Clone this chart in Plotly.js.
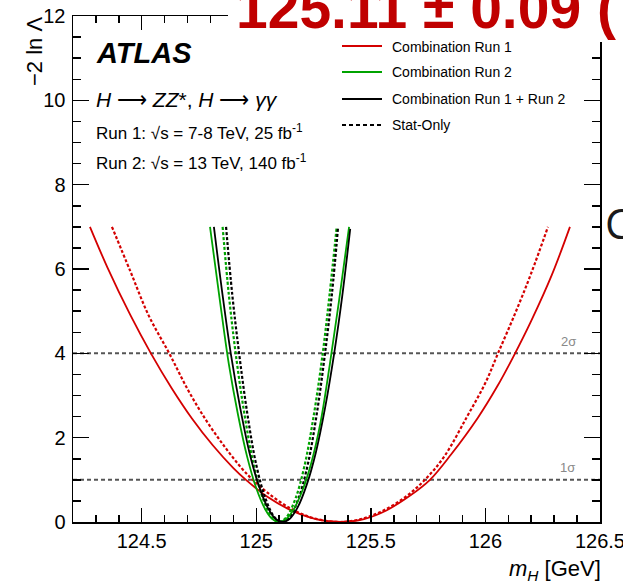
<!DOCTYPE html>
<html>
<head>
<meta charset="utf-8">
<script src="https://cdn.plot.ly/plotly-3.0.1.min.js"></script>
<style>html,body{margin:0;padding:0;background:#fff;}#chart{width:623px;height:584px;}</style>
</head>
<body>
<div id="chart"></div>
<script>
// ---- data ----
const mH_run1 = [124.274,124.35,124.45,124.54,124.63,124.72,124.81,124.90,124.955,125.05,125.15,125.26,125.37,125.47,125.57,125.67,125.758,125.85,125.968,126.05,126.12,126.20,126.29,126.369];
const nll_run1 = [7.0,6.04,4.91,4.0,3.18,2.45,1.82,1.28,1.0,0.59,0.28,0.07,0.0,0.07,0.28,0.62,1.0,1.6,2.48,3.2,3.9,4.77,5.86,7.0];

const mH_run1_stat = [124.37,124.45,124.53,124.62,124.70,124.78,124.86,124.94,124.985,125.05,125.15,125.25,125.36,125.45,125.55,125.65,125.736,125.82,125.92,126.0,126.055,126.13,126.20,126.273];
const nll_run1_stat = [7.0,5.95,4.9,4.0,3.15,2.42,1.8,1.25,1.0,0.69,0.32,0.09,0.0,0.06,0.26,0.59,1.0,1.55,2.5,3.3,4.0,4.95,5.9,7.0];

const mH_run2 = [124.798,124.84,124.88,124.92,124.96,125.00,125.04,125.07,125.10,125.13,125.16,125.20,125.24,125.28,125.32,125.36,125.405];
const nll_run2 = [7.0,5.3,3.75,2.55,1.55,0.8,0.29,0.07,0.0,0.07,0.27,0.73,1.4,2.35,3.7,5.2,7.0];

const mH_run2_stat = [124.853,124.88,124.91,124.95,124.99,125.03,125.07,125.10,125.13,125.17,125.21,125.25,125.29,125.32,125.351];
const nll_run2_stat = [7.0,5.4,4.0,2.5,1.32,0.54,0.1,0.0,0.1,0.54,1.32,2.5,4.0,5.4,7.0];

const mH_comb = [124.815,124.85,124.89,124.93,124.97,125.01,125.05,125.085,125.115,125.145,125.18,125.22,125.26,125.30,125.34,125.375,125.41];
const nll_comb = [7.0,5.5,3.95,2.7,1.65,0.88,0.34,0.07,0.0,0.07,0.34,0.88,1.65,2.7,4.0,5.35,6.95];

const mH_comb_stat = [124.868,124.895,124.925,124.96,125.00,125.04,125.08,125.112,125.145,125.185,125.225,125.265,125.30,125.33,125.357];
const nll_comb_stat = [7.0,5.4,4.0,2.6,1.35,0.56,0.11,0.0,0.11,0.57,1.37,2.6,4.0,5.4,7.0];

const sigmaLevels = [1, 4];
const sigmaLabels = ['1σ', '2σ'];
const xTickVals = [124.5, 125, 125.5, 126, 126.5];
const xTickText = ['124.5', '125', '125.5', '126', '126.5'];
const yTickVals = [0, 2, 4, 6, 8, 10, 12];
const yTickText = ['0', '2', '4', '6', '8', '10', '12'];
const legendLabels = ['Combination Run 1', 'Combination Run 2', 'Combination Run 1 + Run 2', 'Stat-Only'];

// ---- styling / layout ----
const RED = '#d40000', GREEN = '#00a300', BLACK = '#000000';
const FONT = 'Liberation Sans, Arial, Helvetica, sans-serif';
const L = 73, R = 600, T = 16, B = 522;
const px = x => (x - L) / (R - L);
const py = y => (B - y) / (B - T);

function tr(x, y, color, dashed) {
  return {x: x, y: y, type: 'scatter', mode: 'lines', showlegend: false, hoverinfo: 'skip',
    line: {color: color, width: dashed ? 2.2 : 1.8, dash: dashed ? '3px,2px' : 'solid', shape: 'spline', smoothing: 1}};
}
const data = [
  tr(mH_run1, nll_run1, RED, false),
  tr(mH_run1_stat, nll_run1_stat, RED, true),
  tr(mH_run2_stat, nll_run2_stat, GREEN, true),
  tr(mH_comb_stat, nll_comb_stat, BLACK, true),
  tr(mH_run2, nll_run2, GREEN, false),
  tr(mH_comb, nll_comb, BLACK, false)
];

const shapes = [];
sigmaLevels.forEach(v => shapes.push({type: 'line', xref: 'paper', yref: 'y', x0: 0, x1: 1, y0: v, y1: v,
  line: {color: '#555555', width: 2, dash: '4px,3px'}, layer: 'below'}));
// white box behind the big headline
shapes.push({type: 'rect', xref: 'paper', yref: 'paper', x0: px(228), x1: px(640), y0: py(42), y1: py(-10),
  fillcolor: '#ffffff', line: {width: 0}, layer: 'above'});
// legend samples
const legY = [46, 72, 99, 125];
const legC = [RED, GREEN, BLACK, BLACK];
const legD = ['solid', 'solid', 'solid', '4px,3px'];
legY.forEach((yy, i) => shapes.push({type: 'line', xref: 'paper', yref: 'paper', x0: px(342), x1: px(382), y0: py(yy), y1: py(yy),
  line: {color: legC[i], width: 2, dash: legD[i]}, layer: 'above'}));

const annotations = [];
function ann(text, x, y, size, opts) {
  annotations.push(Object.assign({text: text, xref: 'paper', yref: 'paper', x: px(x), y: py(y), showarrow: false,
    xanchor: 'left', yanchor: 'middle', font: {family: FONT, size: size, color: '#000'}}, opts || {}));
}
legendLabels.forEach((t, i) => ann(t, 390, legY[i] + (i === 0 ? 1 : 0), 14));
ann('<b>125.11 ± 0.09 (</b>', 234, 8, 57, {font: {family: FONT, size: 57, color: '#c00000'}});
ann('<b><i>ATLAS</i></b>', 94, 53, 29);
ann('<i>H</i> ⟶ <i>ZZ</i>*, <i>H</i> ⟶ <i>γγ</i>', 94, 99, 21);
ann('Run 1: √s = 7-8 TeV, 25 fb<sup>-1</sup>', 94, 132, 17);
ann('Run 2: √s = 13 TeV, 140 fb<sup>-1</sup>', 94, 162, 17);
ann(sigmaLabels[1], 568, 341, 13, {xanchor: 'center', font: {family: FONT, size: 13, color: '#888888'}});
ann(sigmaLabels[0], 567, 467, 13, {xanchor: 'center', font: {family: FONT, size: 13, color: '#888888'}});
ann('−2 ln Λ', 34, 52, 22, {xanchor: 'center', textangle: -90});
ann('<i>m</i><sub><i>H</i></sub> [GeV]', 603, 570, 22, {xanchor: 'right'});
ann('C', 603, 223, 42, {font: {family: 'Open Sans, sans-serif', size: 42, color: '#1a1a1a'}});

const axisCommon = {showgrid: false, zeroline: false, showline: true, linecolor: '#000', linewidth: 1.5,
  mirror: 'allticks', ticks: 'inside', tickcolor: '#000', tickwidth: 1.5, ticklabeloverflow: 'allow',
  tickfont: {family: FONT, size: 20, color: '#000'}, fixedrange: true};

const layout = {
  width: 623, height: 584,
  margin: {l: L, r: 623 - R, t: T, b: 584 - B, pad: 0},
  paper_bgcolor: '#fff', plot_bgcolor: '#fff',
  showlegend: false,
  xaxis: Object.assign({}, axisCommon, {range: [124.2, 126.5002], tickmode: 'array', tickvals: xTickVals, ticktext: xTickText,
    ticklen: 14, ticklabelstandoff: 0,
    minor: {dtick: 0.1, tick0: 124.2, ticks: 'inside', ticklen: 7, tickwidth: 1.5, tickcolor: '#000', showgrid: false}}),
  yaxis: Object.assign({}, axisCommon, {range: [0, 12.0001], tickmode: 'array', tickvals: yTickVals, ticktext: yTickText,
    ticklen: 16, ticklabelstandoff: 2,
    minor: {dtick: 0.5, tick0: 0, ticks: 'inside', ticklen: 8, tickwidth: 1.5, tickcolor: '#000', showgrid: false}}),
  shapes: shapes,
  annotations: annotations
};

Plotly.newPlot('chart', data, layout, {staticPlot: true, displayModeBar: false});
</script>
</body>
</html>
